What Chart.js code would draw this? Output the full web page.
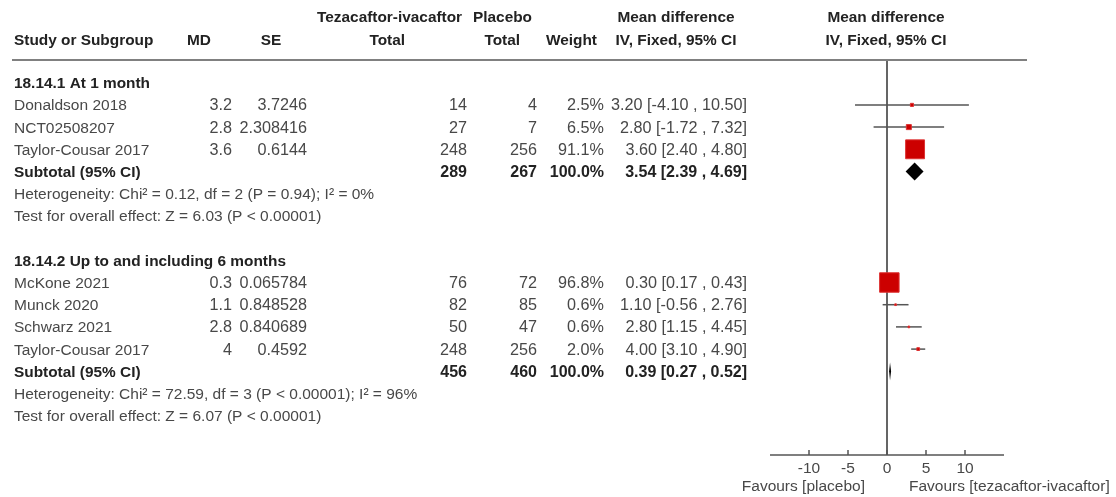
<!DOCTYPE html>
<html>
<head>
<meta charset="utf-8">
<script src="https://cdn.jsdelivr.net/npm/chart.js@4/dist/chart.umd.min.js"></script>
<style>
  html, body { margin: 0; padding: 0; background: #fff; }
  canvas { display: block; }
</style>
</head>
<body>
<canvas id="forest" width="1116" height="497"></canvas>
<script>
// study rows
const studyNames = ['Donaldson 2018', 'NCT02508207', 'Taylor-Cousar 2017', 'McKone 2021', 'Munck 2020', 'Schwarz 2021', 'Taylor-Cousar 2017'];
const studyRows = [1, 2, 3, 9, 10, 11, 12];
const md = [3.2, 2.8, 3.6, 0.3, 1.1, 2.8, 4];
const se = ['3.7246', '2.308416', '0.6144', '0.065784', '0.848528', '0.840689', '0.4592'];
const treatTotal = [14, 27, 248, 76, 82, 50, 248];
const placeboTotal = [4, 7, 256, 72, 85, 47, 256];
const weights = [2.5, 6.5, 91.1, 96.8, 0.6, 0.6, 2.0];
const ciLow = [-4.10, -1.72, 2.40, 0.17, -0.56, 1.15, 3.10];
const ciHigh = [10.50, 7.32, 4.80, 0.43, 2.76, 4.45, 4.90];

// subgroups
const groupTitles = ['18.14.1 At 1 month', '18.14.2 Up to and including 6 months'];
const groupRows = [0, 8];
const subRows = [4, 13];
const subMd = [3.54, 0.39];
const subLow = [2.39, 0.27];
const subHigh = [4.69, 0.52];
const subTreat = [289, 456];
const subPlacebo = [267, 460];
const heteroText = ['Heterogeneity: Chi\u00b2 = 0.12, df = 2 (P = 0.94); I\u00b2 = 0%',
                    'Heterogeneity: Chi\u00b2 = 72.59, df = 3 (P < 0.00001); I\u00b2 = 96%'];
const heteroRows = [5, 14];
const effectText = ['Test for overall effect: Z = 6.03 (P < 0.00001)',
                    'Test for overall effect: Z = 6.07 (P < 0.00001)'];
const effectRows = [6, 15];

const xTicks = [-10, -5, 0, 5, 10];
const xMin = -15, xMax = 15;
const yMin = -1.0225, yMax = 16.77;

const FONT = "'Liberation Sans', Arial, sans-serif";

function fmt2(v) { return v.toFixed(2); }

const datasets = [];
studyRows.forEach((r, i) => {
    datasets.push({
        type: 'line',
        data: [{x: ciLow[i], y: r}, {x: ciHigh[i], y: r}],
        borderColor: '#555',
        borderWidth: 1.5,
        pointRadius: 0,
        order: 2
    });
});
datasets.push({
    type: 'scatter',
    data: studyRows.map((r, i) => ({x: md[i], y: r})),
    pointStyle: 'rect',
    pointRadius: weights.map(w => Math.max(1.2, 14 * Math.sqrt(w / 100))),
    backgroundColor: '#cc0000',
    borderColor: '#dd3333',
    borderWidth: 1,
    order: 0
});
// line of no effect
datasets.push({
    type: 'line',
    data: [{x: 0, y: yMin}, {x: 0, y: yMax}],
    borderColor: '#333',
    borderWidth: 1.5,
    pointRadius: 0,
    order: 3
});

const forestText = {
    id: 'forestText',
    afterDatasetsDraw(chart) {
        const ctx = chart.ctx;
        const xs = chart.scales.x, ys = chart.scales.y;
        ctx.save();
        // diamonds
        ctx.fillStyle = '#000';
        subRows.forEach((r, i) => {
            const yc = ys.getPixelForValue(r);
            const yt = ys.getPixelForValue(r - 0.4);
            const yb = ys.getPixelForValue(r + 0.4);
            ctx.beginPath();
            ctx.moveTo(xs.getPixelForValue(subLow[i]), yc);
            ctx.lineTo(xs.getPixelForValue(subMd[i]), yt);
            ctx.lineTo(xs.getPixelForValue(subHigh[i]), yc);
            ctx.lineTo(xs.getPixelForValue(subMd[i]), yb);
            ctx.closePath();
            ctx.fill();
        });

        // header rule
        ctx.strokeStyle = '#808080';
        ctx.lineWidth = 2;
        ctx.beginPath();
        ctx.moveTo(12, chart.chartArea.top);
        ctx.lineTo(1027, chart.chartArea.top);
        ctx.stroke();

        // x axis
        const yAxis = chart.chartArea.bottom;
        ctx.strokeStyle = '#555';
        ctx.lineWidth = 1.5;
        ctx.beginPath();
        ctx.moveTo(xs.getPixelForValue(xMin), yAxis);
        ctx.lineTo(xs.getPixelForValue(xMax), yAxis);
        xTicks.forEach(t => {
            const px = xs.getPixelForValue(t);
            ctx.moveTo(px, yAxis);
            ctx.lineTo(px, yAxis - 5);
        });
        ctx.stroke();

        // all text on a shared alphabetic baseline
        const BL = 5.5;
        ctx.textBaseline = 'alphabetic';
        ctx.font = '15.5px ' + FONT;
        ctx.fillStyle = '#484848';
        ctx.textAlign = 'center';
        xTicks.forEach(t => ctx.fillText(String(t), xs.getPixelForValue(t), yAxis + 12 + BL));
        ctx.textAlign = 'right';
        ctx.fillText('Favours [placebo]', xs.getPixelForValue(0) - 22, yAxis + 30 + BL);
        ctx.textAlign = 'left';
        ctx.fillText('Favours [tezacaftor-ivacaftor]', xs.getPixelForValue(0) + 22, yAxis + 30 + BL);

        // column headers
        const bold = 'bold 15.4px ' + FONT;
        const boldNum = 'bold 16px ' + FONT;
        const reg = '15.5px ' + FONT;
        const regNum = '16.2px ' + FONT;
        ctx.font = bold;
        ctx.fillStyle = '#222';
        const h1 = 16 + BL, h2 = 39 + BL;
        ctx.textAlign = 'left';
        ctx.fillText('Study or Subgroup', 14, h2);
        ctx.fillText('Tezacaftor-ivacaftor', 317, h1);
        ctx.fillText('Placebo', 473, h1);
        ctx.textAlign = 'center';
        ctx.fillText('MD', 199, h2);
        ctx.fillText('SE', 271, h2);
        ctx.fillText('Mean difference', 676, h1);
        ctx.fillText('IV, Fixed, 95% CI', 676, h2);
        ctx.fillText('Mean difference', 886, h1);
        ctx.fillText('IV, Fixed, 95% CI', 886, h2);
        ctx.textAlign = 'right';
        ctx.fillText('Total', 405, h2);
        ctx.fillText('Total', 520, h2);
        ctx.fillText('Weight', 597, h2);

        // group titles and subtotals
        groupRows.forEach((r, i) => {
            const y = ys.getPixelForValue(r) + BL;
            ctx.textAlign = 'left';
            ctx.fillText(groupTitles[i], 14, y);
        });
        subRows.forEach((r, i) => {
            const y = ys.getPixelForValue(r) + BL;
            ctx.font = bold;
            ctx.textAlign = 'left';
            ctx.fillText('Subtotal (95% CI)', 14, y);
            ctx.font = boldNum;
            ctx.textAlign = 'right';
            ctx.fillText(String(subTreat[i]), 467, y);
            ctx.fillText(String(subPlacebo[i]), 537, y);
            ctx.fillText('100.0%', 604, y);
            ctx.fillText(fmt2(subMd[i]) + ' [' + fmt2(subLow[i]) + ' , ' + fmt2(subHigh[i]) + ']', 747, y);
        });

        // study rows
        ctx.fillStyle = '#484848';
        studyRows.forEach((r, i) => {
            const y = ys.getPixelForValue(r) + BL;
            ctx.font = reg;
            ctx.textAlign = 'left';
            ctx.fillText(studyNames[i], 14, y);
            ctx.font = regNum;
            ctx.textAlign = 'right';
            ctx.fillText(String(md[i]), 232, y);
            ctx.fillText(se[i], 307, y);
            ctx.fillText(String(treatTotal[i]), 467, y);
            ctx.fillText(String(placeboTotal[i]), 537, y);
            ctx.fillText(weights[i].toFixed(1) + '%', 604, y);
            ctx.fillText(fmt2(md[i]) + ' [' + fmt2(ciLow[i]) + ' , ' + fmt2(ciHigh[i]) + ']', 747, y);
        });
        ctx.font = reg;
        ctx.textAlign = 'left';
        heteroRows.forEach((r, i) => ctx.fillText(heteroText[i], 14, ys.getPixelForValue(r) + BL));
        effectRows.forEach((r, i) => ctx.fillText(effectText[i], 14, ys.getPixelForValue(r) + BL));
        ctx.restore();
    }
};

const ctx = document.getElementById('forest').getContext('2d');
new Chart(ctx, {
    type: 'scatter',
    data: { datasets: datasets },
    options: {
        responsive: false,
        animation: false,
        layout: { padding: { left: 770, right: 112, top: 60, bottom: 42 } },
        plugins: { legend: { display: false }, tooltip: { enabled: false } },
        scales: {
            x: { type: 'linear', min: xMin, max: xMax, display: false },
            y: { type: 'linear', min: yMin, max: yMax, reverse: true, display: false }
        }
    },
    plugins: [forestText]
});
</script>
</body>
</html>
